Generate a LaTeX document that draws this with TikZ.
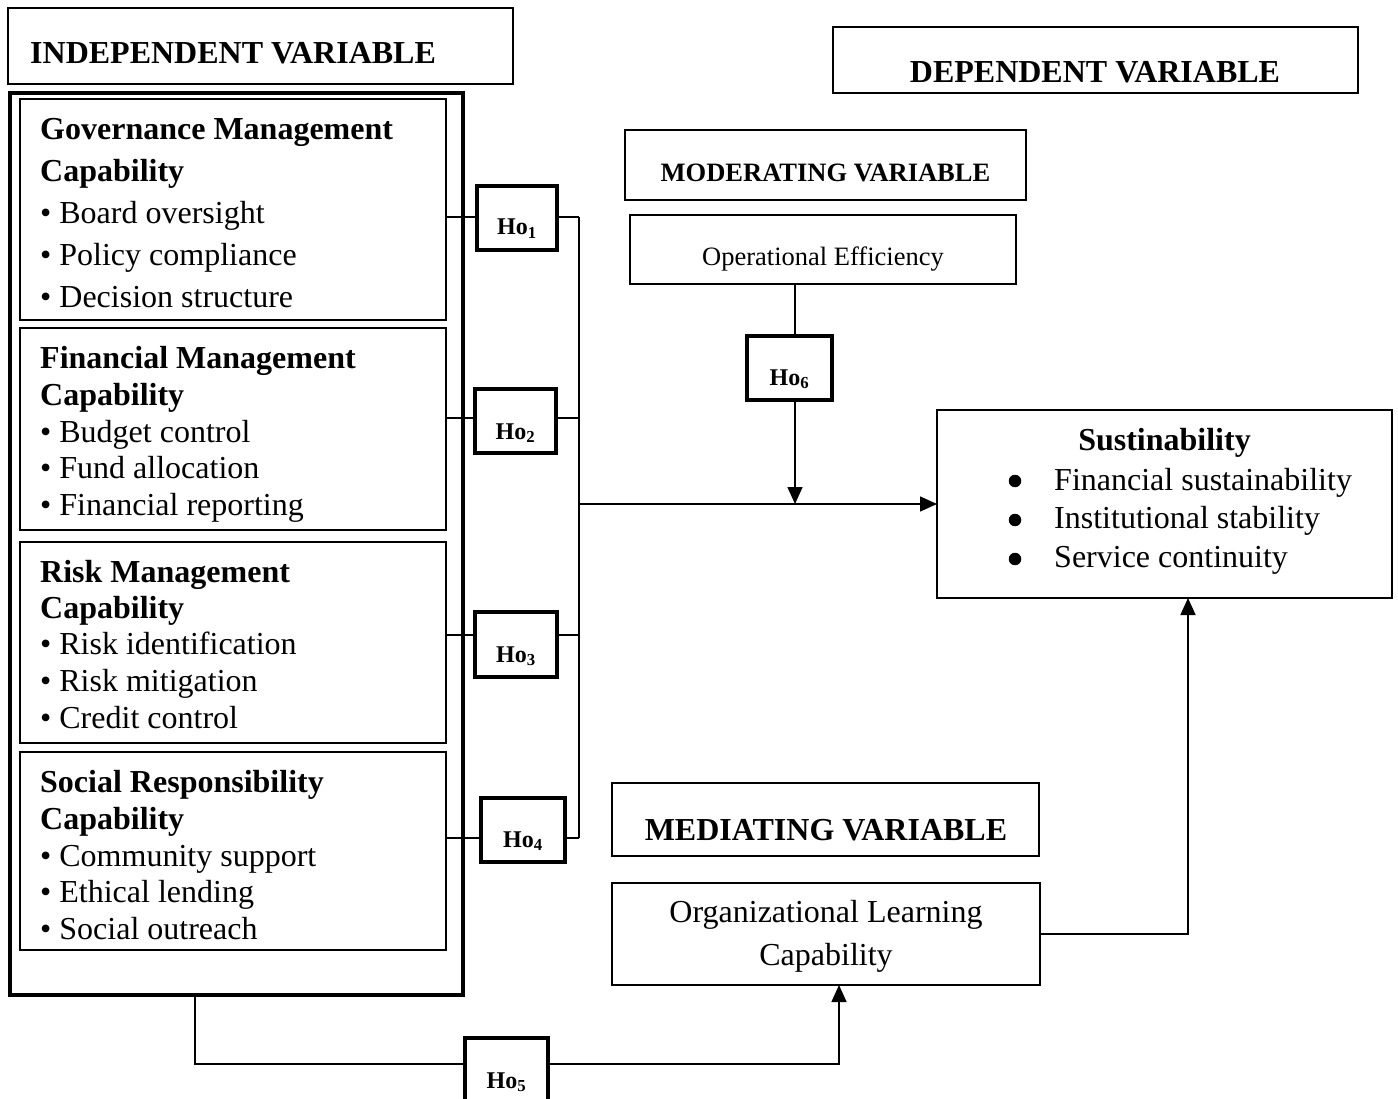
\documentclass[tikz,border=0pt]{standalone}
\usepackage{fontspec}
\setmainfont{Liberation Serif}
\usetikzlibrary{arrows.meta}
\newcommand{\mybox}[6]{\node[#1,minimum width={(#5)-(#3)},minimum height={(#6)-(#4)}] (#2) at ({((#3)+(#5))/2},{((#4)+(#6))/2}) {};}
\begin{document}
\begin{tikzpicture}[x=1pt,y=-1pt,
 box/.style={draw, line width=1.7pt, inner sep=0pt, outer sep=0pt},
 hbox/.style={draw, line width=3.4pt, inner sep=0pt, outer sep=0pt},
 conn/.style={line width=1.6pt},
 arr/.style={line width=1.6pt, -{Triangle[length=17pt,width=15pt]}},
 txt/.style={inner sep=0pt, anchor=base west, font=\fontsize{32}{38}\selectfont},
 btxt/.style={inner sep=0pt, anchor=base west, font=\fontsize{32}{38}\selectfont\bfseries},
 htxt/.style={inner sep=0pt, anchor=base, font=\fontsize{24}{28}\selectfont\bfseries},
 dot/.style={circle, fill=black, inner sep=0pt, minimum size=12.5pt},
]
\useasboundingbox (0,0) rectangle (1398,1099);
\clip (0,0) rectangle (1398,1099);
\fill[white] (0,0) rectangle (1398,1099);

% header boxes
\mybox{box}{indep}{8}{8}{513}{84}
\mybox{box}{dep}{833}{27}{1358}{93}
\node[btxt] (indept) at (30,64) {INDEPENDENT VARIABLE};
\node[btxt, anchor=base] (dept) at (1095,83) {DEPENDENT VARIABLE};

% independent variable block
\mybox{hbox}{outer}{10}{93}{463}{995}
\mybox{box}{gov}{20}{99}{446}{320}
\mybox{box}{fin}{20}{328}{446}{530}
\mybox{box}{risk}{20}{542}{446}{743}
\mybox{box}{soc}{20}{752}{446}{950}

\node[btxt] (g1) at (40,140) {Governance Management};
\node[btxt] (g2) at (40,182) {Capability};
\node[txt] (g3) at (40,224) {• Board oversight};
\node[txt] (g4) at (40,266) {• Policy compliance};
\node[txt] (g5) at (40,308) {• Decision structure};

\node[btxt] (f1) at (40,369) {Financial Management};
\node[btxt] (f2) at (40,405.5) {Capability};
\node[txt] (f3) at (40,442) {• Budget control};
\node[txt] (f4) at (40,478.5) {• Fund allocation};
\node[txt] (f5) at (40,515) {• Financial reporting};

\node[btxt] (r1) at (40,582) {Risk Management};
\node[btxt] (r2) at (40,618) {Capability};
\node[txt] (r3) at (40,654.5) {• Risk identification};
\node[txt] (r4) at (40,691) {• Risk mitigation};
\node[txt] (r5) at (40,728) {• Credit control};

\node[btxt] (s1) at (40,792) {Social Responsibility};
\node[btxt] (s2) at (40,829) {Capability};
\node[txt] (s3) at (40,866) {• Community support};
\node[txt] (s4) at (40,902) {• Ethical lending};
\node[txt] (s5) at (40,939) {• Social outreach};

% hypothesis boxes
\mybox{hbox}{h1}{477}{186}{557}{250}
\mybox{hbox}{h2}{475}{389}{556}{453}
\mybox{hbox}{h3}{475}{612}{557}{677}
\mybox{hbox}{h4}{481}{798}{565}{862}
\mybox{hbox}{h5}{465}{1038}{548}{1140}
\mybox{hbox}{h6}{747}{336}{832}{400}
\node[htxt] (h1t) at (517,235) {Ho\textsubscript{1}};
\node[htxt] (h2t) at (515.5,439) {Ho\textsubscript{2}};
\node[htxt] (h3t) at (516,662) {Ho\textsubscript{3}};
\node[htxt] (h4t) at (523,847) {Ho\textsubscript{4}};
\node[htxt] (h5t) at (506.5,1088) {Ho\textsubscript{5}};
\node[htxt] (h6t) at (789.5,385) {Ho\textsubscript{6}};

% moderating
\mybox{box}{mod}{625}{130}{1026}{200}
\mybox{box}{opeff}{630}{215}{1016}{284}
\node[inner sep=0pt, anchor=base, font=\fontsize{26.5}{30}\selectfont\bfseries] (modt) at (825.5,182) {MODERATING VARIABLE};
\node[inner sep=0pt, anchor=base, font=\fontsize{26.5}{30}\selectfont] (opt) at (823,266) {Operational Efficiency};

% dependent
\mybox{box}{sust}{937}{410}{1392}{598}
\node[btxt, anchor=base] (sustt) at (1164.5,450) {Sustinability};
\node[dot] (b1) at (1015,481) {};
\node[dot] (b2) at (1015,520) {};
\node[dot] (b3) at (1015,559) {};
\node[txt] (st1) at (1054,490) {Financial sustainability};
\node[txt] (st2) at (1054,528) {Institutional stability};
\node[txt] (st3) at (1054,567) {Service continuity};

% mediating
\mybox{box}{med}{612}{783}{1039}{856}
\mybox{box}{org}{612}{883}{1040}{985}
\node[btxt, anchor=base] (medt) at (826,840) {MEDIATING VARIABLE};
\node[txt, anchor=base] (o1) at (826,922) {Organizational Learning};
\node[txt, anchor=base] (o2) at (826,965) {Capability};

% connectors: independent -> hypotheses -> bus
\coordinate (busT) at (579,217);
\coordinate (busB) at (579,838);
\coordinate (busM) at (579,504);
\draw[conn] (gov.east |- 0,217) -- (h1.west |- 0,217);
\draw[conn] (fin.east |- 0,418) -- (h2.west |- 0,418);
\draw[conn] (risk.east |- 0,635) -- (h3.west |- 0,635);
\draw[conn] (soc.east |- 0,838) -- (h4.west |- 0,838);
\draw[conn] (h1.east |- 0,217) -- (busT);
\draw[conn] (h2.east |- 0,418) -- (579,418);
\draw[conn] (h3.east |- 0,635) -- (579,635);
\draw[conn] (h4.east |- 0,838) -- (busB);
\draw[conn] (busT) -- (busB);
\draw[arr] (busM) -- (sust.west);

% moderator
\coordinate (mx) at (795,0);
\draw[conn] (opeff.south -| mx) -- (h6.north -| mx);
\draw[arr] (h6.south -| mx) -- (sust.west -| mx);

% mediator
\coordinate (sj) at (1188,598);
\draw[arr] (org.east) -| (sj);
\coordinate (o5) at (195,995);
\coordinate (oj) at (839,985);
\draw[conn] (o5) |- (h5.west |- 0,1064);
\draw[arr] (h5.east |- 0,1064) -| (oj);
\end{tikzpicture}
\end{document}
